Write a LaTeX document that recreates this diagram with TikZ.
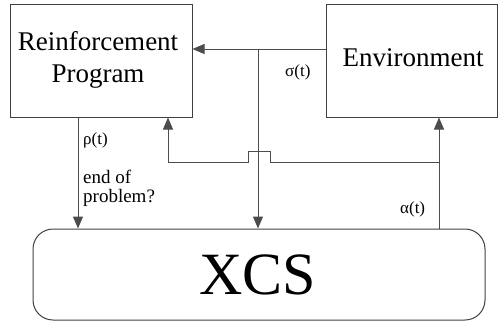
\documentclass[tikz,border=0pt]{standalone}
\usepackage{fontspec}
\setmainfont{Liberation Serif}
\usetikzlibrary{arrows.meta}
\begin{document}
\begin{tikzpicture}[x=1pt,y=-1pt,
  box/.style={draw=black!75,line width=1pt,inner sep=0pt},
  conn/.style={draw=black!70,line width=1pt},
  arr/.style={conn,-{Triangle[length=12pt,width=10pt]}},
  big/.style={font=\fontsize{27}{32}\selectfont,align=center,inner sep=0pt},
  lbl/.style={font=\fontsize{17}{17}\selectfont,inner sep=0pt,anchor=west},
]
\useasboundingbox (0,0) rectangle (499,322);
\node[box,minimum width=182pt,minimum height=113pt] (rp) at (101,60.5) {};
\node[big] (rptext) at (98,60) {Reinforcement\\Program};
\node[box,minimum width=171pt,minimum height=113pt] (env) at (412,60.5) {};
\node[big] (envtext) at (413,58) {Environment};
\node[box,rounded corners=20pt,minimum width=452pt,minimum height=91pt] (xcs) at (259,274.5) {};
\node[font=\fontsize{60}{60}\selectfont,inner sep=0pt] (xcstext) at (258,275) {XCS};
% coordinates
\coordinate (sbr) at (258,49);
\coordinate (rhoX) at (78,0);
\coordinate (retX) at (168,0);
\coordinate (actX) at (439,0);
\coordinate (hopL) at (248,0);
\coordinate (hopR) at (270,0);
\coordinate (lowY) at (0,162);
\coordinate (hopY) at (0,151);
% sigma
\draw[arr] (env.west |- sbr) -- (rp.east |- sbr);
\draw[arr] (sbr) -- (sbr |- xcs.north);
% rho
\draw[arr] (rp.south -| rhoX) -- (xcs.north -| rhoX);
% action
\draw[arr] (xcs.north -| actX) -- (env.south -| actX);
% return with hop
\draw[arr] (actX |- lowY) -- (hopR |- lowY) -- (hopR |- hopY) -- (hopL |- hopY) -- (hopL |- lowY) -- (retX |- lowY) -- (rp.south -| retX);
% labels
\node[lbl] (rho) at (83,140) {ρ(t)};
\node[lbl] (sig) at (285,72) {σ(t)};
\node[lbl] (alp) at (400,209) {α(t)};
\node[font=\fontsize{19}{18.5}\selectfont,align=left,inner sep=0pt,anchor=north west] (eop) at (83,170) {end of\\problem?};
\end{tikzpicture}
\end{document}
